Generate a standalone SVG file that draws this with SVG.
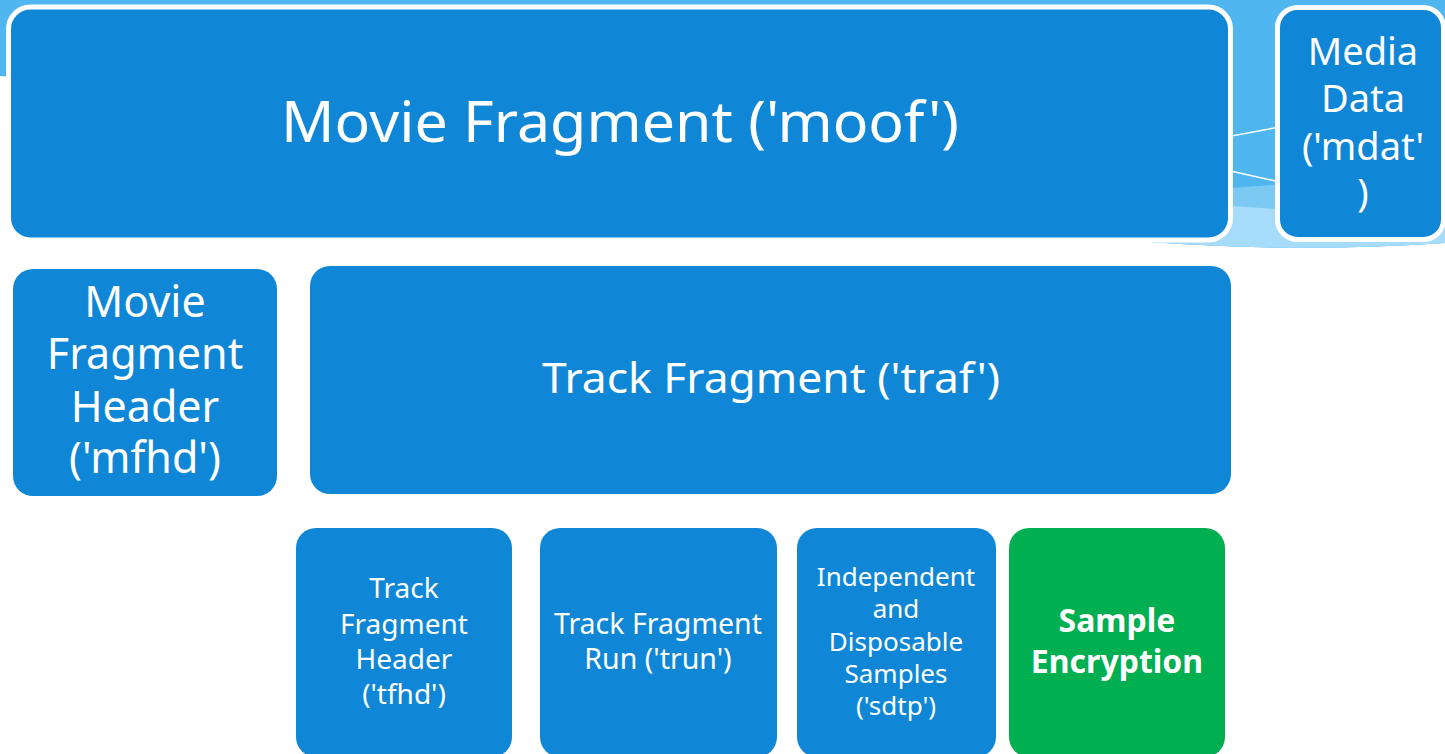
<svg xmlns="http://www.w3.org/2000/svg" width="1445" height="754" viewBox="0 0 1445 754">
  <style>
    .box { fill: #0F87D6; }
    .outlined { fill: #0F87D6; stroke: #FFFFFF; stroke-width: 5; }
    .green { fill: #00AF50; }
    .label { fill: #FFFFFF; font-family: "Noto Sans", "Open Sans", "Liberation Sans", sans-serif; text-anchor: middle; }
    .bold { font-weight: bold; }
    .swoosh-line { stroke: #FFFFFF; stroke-width: 1.5; fill: none; }
  </style>

  <rect x="0" y="0" width="1445" height="754" fill="#FFFFFF"/>

  <!-- Theme swoosh behind the top row -->
  <g id="background">
    <path d="M0,0 H1445 V243 Q1300,253 1150,242 L600,160 Q200,90 0,76 Z" fill="#4FB6EF"/>
    <path d="M1100,196 L1232,188 L1445,172 V243 Q1300,253 1150,242 Z" fill="#7CCAF4"/>
    <path d="M1100,205 L1232,206 L1445,220 V243 Q1300,253 1150,242 Z" fill="#A6DCF9"/>
    <line class="swoosh-line" x1="1226" y1="137" x2="1280" y2="127"/>
    <line class="swoosh-line" x1="1226" y1="170" x2="1280" y2="182"/>
  </g>

  <g id="moof">
    <rect class="outlined" x="8.5" y="7" width="1222" height="233" rx="22"/>
    <text class="label" x="620" y="142" font-size="56" textLength="678" lengthAdjust="spacingAndGlyphs">Movie Fragment ('moof')</text>
  </g>

  <g id="mdat" class="label" font-size="38">
    <rect class="outlined" x="1277.5" y="7.5" width="166" height="232" rx="20"/>
    <text x="1363" y="65">Media</text>
    <text x="1363" y="112">Data</text>
    <text x="1363" y="160">('mdat'</text>
    <text x="1363" y="206">)</text>
  </g>

  <g id="mfhd" class="label" font-size="43">
    <rect class="box" x="13" y="269" width="264" height="227" rx="20"/>
    <text x="145" y="317">Movie</text>
    <text x="145" y="369">Fragment</text>
    <text x="145" y="422">Header</text>
    <text x="145" y="473">('mfhd')</text>
  </g>

  <g id="traf">
    <rect class="box" x="310" y="266" width="921" height="228" rx="20"/>
    <text class="label" x="771" y="393" font-size="42" textLength="458" lengthAdjust="spacingAndGlyphs">Track Fragment ('traf')</text>
  </g>

  <g id="tfhd" class="label" font-size="28">
    <rect class="box" x="296" y="528" width="216" height="229" rx="20"/>
    <text x="404" y="598">Track</text>
    <text x="404" y="634">Fragment</text>
    <text x="404" y="669">Header</text>
    <text x="404" y="704">('tfhd')</text>
  </g>

  <g id="trun" class="label" font-size="28.5">
    <rect class="box" x="540" y="528" width="237" height="229" rx="20"/>
    <text x="658" y="634">Track Fragment</text>
    <text x="658" y="669">Run ('trun')</text>
  </g>

  <g id="sdtp" class="label" font-size="26">
    <rect class="box" x="797" y="528" width="199" height="229" rx="20"/>
    <text x="896" y="586">Independent</text>
    <text x="896" y="618">and</text>
    <text x="896" y="651">Disposable</text>
    <text x="896" y="683">Samples</text>
    <text x="896" y="715">('sdtp')</text>
  </g>

  <g id="senc" class="label bold" font-size="32">
    <rect class="green" x="1009" y="528" width="216" height="229" rx="20"/>
    <text x="1117" y="632">Sample</text>
    <text x="1117" y="673">Encryption</text>
  </g>

  <g id="connectors"/>
</svg>
